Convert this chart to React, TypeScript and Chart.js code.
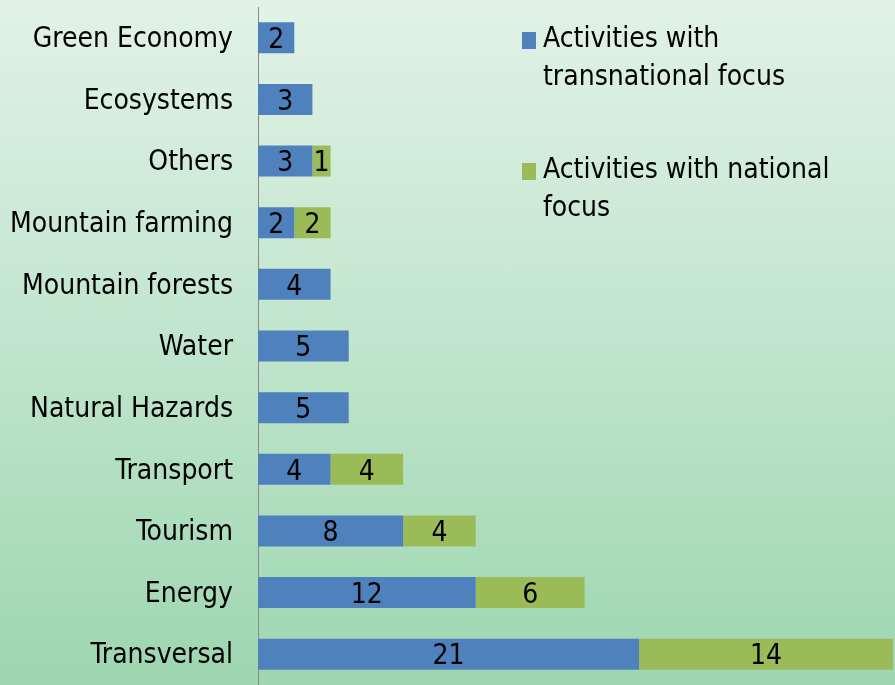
import React, { useEffect, useRef } from "react";
import { Chart, registerables } from "chart.js";

Chart.register(...registerables);

const categories = [
  "Green Economy",
  "Ecosystems",
  "Others",
  "Mountain farming",
  "Mountain forests",
  "Water",
  "Natural Hazards",
  "Transport",
  "Tourism",
  "Energy",
  "Transversal",
];
const transnationalValues = [2, 3, 3, 2, 4, 5, 5, 4, 8, 12, 21];
const nationalValues = [null, null, 1, 2, null, null, null, 4, 4, 6, 14];
const seriesLabels = [
  ["Activities with", "transnational focus"],
  ["Activities with national", "focus"],
];
const seriesColors = ["#4F81BD", "#9BBB59"];
const xMax = 35;

const FONT = "'DejaVu Sans Condensed', 'DejaVu Sans', sans-serif";

const valueLabelPlugin = {
  id: "valueLabels",
  afterDatasetsDraw(chart: any) {
    const ctx = chart.ctx;
    ctx.save();
    ctx.font = `28px ${FONT}`;
    ctx.fillStyle = "#000";
    ctx.textAlign = "center";
    ctx.textBaseline = "middle";
    chart.data.datasets.forEach((ds: any, i: number) => {
      const meta = chart.getDatasetMeta(i);
      meta.data.forEach((el: any, j: number) => {
        const v = ds.data[j];
        if (v == null || v === 0) return;
        const cx = (el.x + el.base) / 2;
        ctx.fillText(String(v), cx, el.y + 3);
      });
    });
    ctx.restore();
  },
};

const customLegendPlugin = {
  id: "customLegend",
  afterDraw(chart: any) {
    const ctx = chart.ctx;
    ctx.save();
    ctx.font = `28px ${FONT}`;
    ctx.textAlign = "left";
    ctx.textBaseline = "middle";
    const x0 = 522;
    const tops = [40, 171];
    seriesLabels.forEach((lines, i) => {
      const y = tops[i];
      ctx.fillStyle = seriesColors[i];
      ctx.fillRect(x0, y - 8, 14, 17);
      ctx.fillStyle = "#000";
      lines.forEach((line, k) => {
        ctx.fillText(line, x0 + 21, y + k * 38);
      });
    });
    ctx.restore();
  },
};

export default function App() {
  const ref = useRef<HTMLCanvasElement | null>(null);

  useEffect(() => {
    if (!ref.current) return;
    const chart = new Chart(ref.current, {
      type: "bar",
      data: {
        labels: categories,
        datasets: [
          {
            label: seriesLabels[0].join(" "),
            data: transnationalValues,
            backgroundColor: seriesColors[0],
            categoryPercentage: 1,
            barPercentage: 0.503,
          },
          {
            label: seriesLabels[1].join(" "),
            data: nationalValues,
            backgroundColor: seriesColors[1],
            categoryPercentage: 1,
            barPercentage: 0.503,
          },
        ],
      },
      options: {
        indexAxis: "y",
        animation: false,
        responsive: true,
        maintainAspectRatio: false,
        layout: { padding: { top: 7, right: 2, bottom: 0, left: 0 } },
        plugins: {
          legend: { display: false },
          tooltip: { enabled: false },
        },
        scales: {
          x: {
            stacked: true,
            display: false,
            min: 0,
            max: xMax,
          },
          y: {
            stacked: true,
            grid: { display: false, drawTicks: false },
            border: { display: true, color: "#8a8a8a", width: 1 },
            ticks: {
              color: "#000",
              padding: 25,
              labelOffset: 2,
              font: { family: FONT, size: 28 },
            },
            afterFit(scale: any) {
              scale.width = 258;
              scale.paddingTop = 0;
              scale.paddingBottom = 0;
            },
          },
        },
      },
      plugins: [valueLabelPlugin, customLegendPlugin],
    });
    return () => chart.destroy();
  }, []);

  return (
    <div
      style={{
        position: "fixed",
        left: 0,
        top: 0,
        width: 895,
        height: 685,
        background:
          "linear-gradient(180deg, #e2f2e7 0%, #c0e5cc 50%, #9dd6b0 100%)",
      }}
    >
      <canvas ref={ref} />
    </div>
  );
}
